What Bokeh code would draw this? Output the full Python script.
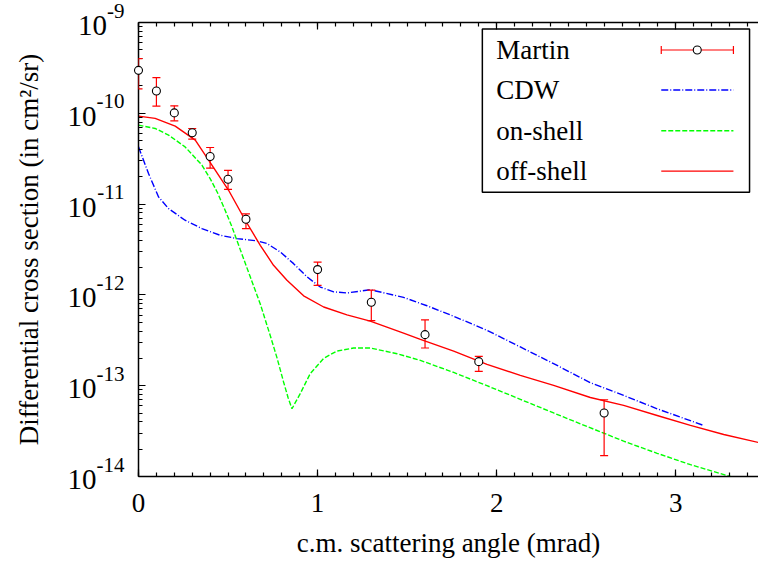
from bokeh.plotting import figure
from bokeh.models import (ColumnDataSource, Whisker, TeeHead, FixedTicker, LinearAxis,
                          CustomJSTickFormatter, BoxAnnotation, Label, Range1d)
from bokeh.core.properties import value
from bokeh.embed import file_html
from bokeh.resources import INLINE

# ---------------- data ----------------
martin_x = [0.0, 0.1, 0.2, 0.3, 0.4, 0.5, 0.6, 1.0, 1.3, 1.6, 1.9, 2.6]
martin_y = [2.97e-10, 1.76e-10, 1.01e-10, 6.1e-11, 3.35e-11, 1.88e-11, 6.8e-12,
            1.9e-12, 8.3e-13, 3.65e-13, 1.84e-13, 5.0e-14]
martin_hi = [4.0e-10, 2.47e-10, 1.21e-10, 6.8e-11, 4.2e-11, 2.35e-11, 7.8e-12,
             2.3e-12, 1.13e-12, 5.3e-13, 2.1e-13, 7.0e-14]
martin_lo = [1.86e-10, 1.2e-10, 8.26e-11, 5.2e-11, 2.49e-11, 1.45e-11, 5.37e-12,
             1.27e-12, 5.2e-13, 2.6e-13, 1.44e-13, 1.7e-14]

cdw_x = [0.0, 0.056, 0.112, 0.168, 0.26, 0.354, 0.456, 0.55, 0.661, 0.717, 0.792,
         0.866, 0.941, 1.015, 1.09, 1.164, 1.294, 1.48, 1.611, 1.76, 1.946, 2.132,
         2.318, 2.523, 2.709, 2.896, 3.156]
cdw_y = [4.27e-11, 2.17e-11, 1.20e-11, 8.91e-12, 6.64e-12, 5.37e-12, 4.54e-12,
         4.17e-12, 3.94e-12, 3.68e-12, 2.97e-12, 2.21e-12, 1.58e-12, 1.22e-12,
         1.08e-12, 1.05e-12, 1.14e-12, 9.4e-13, 7.59e-13, 5.82e-13, 4.07e-13,
         2.67e-13, 1.75e-13, 1.08e-13, 7.82e-14, 5.57e-14, 3.65e-14]

onshell_x = [0.0, 0.093, 0.168, 0.26, 0.354, 0.40, 0.44, 0.48, 0.52, 0.568, 0.624,
             0.68, 0.736, 0.773, 0.81, 0.835, 0.857, 0.88, 0.903, 0.959, 1.034,
             1.108, 1.201, 1.294, 1.444, 1.574, 1.76, 1.946, 2.132, 2.318, 2.504,
             2.709, 2.896, 3.082, 3.305, 3.462]
onshell_y = [7.41e-11, 6.81e-11, 5.75e-11, 4.27e-11, 2.69e-11, 1.91e-11, 1.35e-11,
             8.91e-12, 5.75e-12, 3.16e-12, 1.58e-12, 7.94e-13, 3.55e-13, 2.04e-13,
             1.10e-13, 7.41e-14, 5.57e-14, 6.76e-14, 8.17e-14, 1.36e-13, 2.0e-13,
             2.41e-13, 2.60e-13, 2.60e-13, 2.25e-13, 1.90e-13, 1.40e-13, 1.0e-13,
             7.08e-14, 5.01e-14, 3.56e-14, 2.45e-14, 1.80e-14, 1.35e-14, 1.0e-14,
             8.1e-15]

offshell_x = [0.0, 0.093, 0.205, 0.317, 0.41, 0.503, 0.596, 0.68, 0.754, 0.829,
              0.922, 1.034, 1.164, 1.294, 1.48, 1.574, 1.76, 1.946, 2.132, 2.318,
              2.523, 2.709, 2.896, 3.082, 3.268, 3.462]
offshell_y = [9.31e-11, 8.79e-11, 7.23e-11, 5.06e-11, 2.69e-11, 1.42e-11, 6.64e-12,
              3.52e-12, 2.12e-12, 1.45e-12, 9.77e-13, 7.36e-13, 6.03e-13, 5.15e-13,
              3.80e-13, 3.24e-13, 2.40e-13, 1.72e-13, 1.30e-13, 1.01e-13, 7.41e-14,
              6.07e-14, 4.70e-14, 3.65e-14, 2.90e-14, 2.37e-14]

x_major = [0, 1, 2, 3]
y_exponents = [-14, -13, -12, -11, -10, -9]
legend_labels = ["Martin", "CDW", "on-shell", "off-shell"]

# ---------------- styling ----------------
FONT = "Liberation Serif"
FS = "27px"
BASE_PX = 29
SUP_PX = 21
RED, BLUE, GREEN = "#ff0000", "#0000ff", "#00ff00"
X_MAX = 3.462

p = figure(width=758, height=562, x_range=Range1d(0, X_MAX), y_range=Range1d(1e-14, 1e-9),
           y_axis_type="log", output_backend="svg", toolbar_location=None,
           min_border_left=138, min_border_right=0, min_border_top=22, min_border_bottom=86)
p.outline_line_color = None
p.xgrid.visible = False
p.ygrid.visible = False

x_minor = [i / 10 for i in range(0, 35)]
x_ticker = FixedTicker(ticks=x_major, minor_ticks=x_minor)
y_major = [10.0 ** e for e in y_exponents]
y_minor = [m * 10.0 ** e for e in y_exponents[:-1] for m in range(2, 10)]
y_ticker = FixedTicker(ticks=y_major, minor_ticks=y_minor)
blank = CustomJSTickFormatter(code="return ''")


def style_axis(ax):
    ax.axis_line_width = 1.5
    ax.axis_line_color = "black"
    ax.major_tick_line_width = 1.2
    ax.minor_tick_line_width = 1.2
    ax.major_tick_in = 7
    ax.major_tick_out = 0
    ax.minor_tick_in = 4
    ax.minor_tick_out = 0
    ax.major_label_text_font = FONT
    ax.major_label_text_font_size = FS
    ax.major_label_text_color = "black"
    ax.axis_label_text_font = FONT
    ax.axis_label_text_font_size = FS
    ax.axis_label_text_font_style = "normal"
    ax.axis_label_text_color = "black"


xa = p.xaxis[0]
xa.ticker = x_ticker
style_axis(xa)
xa.major_label_standoff = 17
xa.axis_label = "c.m. scattering angle (mrad)"
xa.axis_label_standoff = 13

ya = p.yaxis[0]
ya.ticker = y_ticker
ya.formatter = blank
style_axis(ya)
ya.major_label_standoff = 0
ya.axis_label = "Differential cross section (in cm\u00b2/sr)"
ya.axis_label_standoff = 95

top = LinearAxis(ticker=x_ticker, formatter=blank, major_label_standoff=0)
style_axis(top)
p.add_layout(top, "above")

# y tick labels: "10" with a raised exponent, right-aligned next to the axis
sup_txt = [str(e) for e in y_exponents]
sup_w = [sum(0.333 if c == "-" else 0.5 for c in s) * SUP_PX for s in sup_txt]
tick_src = ColumnDataSource(dict(
    x=[0.0] * len(y_exponents), y=y_major, sup=sup_txt,
    base=["10"] * len(y_exponents), base_off=[-14 - w for w in sup_w]))
r_sup = p.text("x", "y", text="sup", source=tick_src, x_offset=-14, y_offset=-12,
               text_align="right", text_baseline="alphabetic",
               text_font=value(FONT), text_font_size=f"{SUP_PX}px", text_color="black")
r_base = p.text("x", "y", text="base", source=tick_src, x_offset="base_off", y_offset=3,
                text_align="right", text_baseline="alphabetic",
                text_font=value(FONT), text_font_size=f"{BASE_PX}px", text_color="black")
r_sup.level = "overlay"
r_base.level = "overlay"

# ---------------- curves ----------------
p.line(cdw_x, cdw_y, line_color=BLUE, line_width=1.4, line_dash="7 2 1 2")
p.line(onshell_x, onshell_y, line_color=GREEN, line_width=1.4, line_dash="5 2")
p.line(offshell_x, offshell_y, line_color=RED, line_width=1.4)

src = ColumnDataSource(dict(x=martin_x, y=martin_y, hi=martin_hi, lo=martin_lo))
wh = Whisker(base="x", upper="hi", lower="lo", source=src, line_color=RED, line_width=1.2,
             upper_head=TeeHead(size=8, line_color=RED, line_width=1.2),
             lower_head=TeeHead(size=8, line_color=RED, line_width=1.2), level="overlay")
p.renderers.append(wh)
pts = p.scatter("x", "y", source=src, marker="circle", size=8, fill_color="white",
                line_color="black", line_width=1.1)
pts.level = "overlay"

# ---------------- legend (text left, sample right) ----------------
LEG_L, LEG_R = 1.92, 3.412
LEG_T, LEG_B = 10 ** -9.0717, 10 ** -10.869
row_y = [10 ** -9.303, 10 ** -9.744, 10 ** -10.193, 10 ** -10.637]
TXT_X = 1.998
S_L, S_R, S_M = 2.919, 3.322, 3.12

p.add_layout(BoxAnnotation(left=LEG_L, right=LEG_R, top=LEG_T, bottom=LEG_B,
                           fill_color="white", fill_alpha=1.0, line_color="black",
                           line_width=1.5, line_alpha=1.0, level="underlay"))
for lab, ry in zip(legend_labels, row_y):
    p.add_layout(Label(x=TXT_X, y=ry, text=lab, text_font=FONT, text_font_size=FS,
                       text_align="left", text_baseline="middle", text_color="black"))

lsrc = ColumnDataSource(dict(base=[row_y[0]], lo=[S_L], hi=[S_R], m=[S_M]))
p.add_layout(Whisker(base="base", lower="lo", upper="hi", source=lsrc, dimension="width",
                     line_color=RED, line_width=1.2,
                     upper_head=TeeHead(size=8, line_color=RED, line_width=1.2),
                     lower_head=TeeHead(size=8, line_color=RED, line_width=1.2),
                     level="underlay"))
p.scatter("m", "base", source=lsrc, marker="circle", size=8, fill_color="white",
          line_color="black", line_width=1.1)
p.line([S_L, S_R], [row_y[1]] * 2, line_color=BLUE, line_width=1.4, line_dash="7 2 1 2")
p.line([S_L, S_R], [row_y[2]] * 2, line_color=GREEN, line_width=1.4, line_dash="5 2")
p.line([S_L, S_R], [row_y[3]] * 2, line_color=RED, line_width=1.4)

open("out.html", "w").write(file_html(p, INLINE))
